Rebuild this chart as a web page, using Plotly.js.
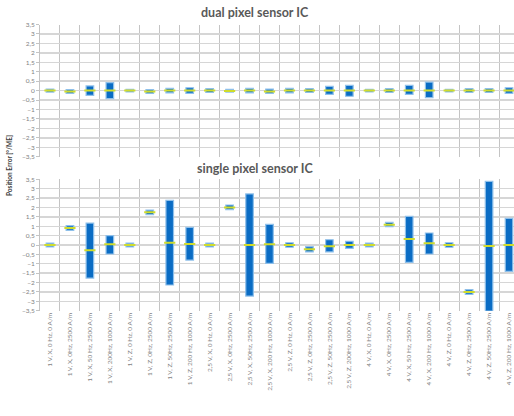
<!DOCTYPE html>
<html>
<head>
<meta charset="utf-8">
<script src="https://cdn.plot.ly/plotly-3.0.1.min.js"></script>
<style>
html,body{margin:0;padding:0;overflow:hidden;background:#fff;width:514px;height:416px;}
#chart{width:519px;height:416px;}
</style>
</head>
<body>
<div id="chart"></div>
<script>
const categories = [
  "1 V, X, 0 Hz, 0 A/m", "1 V, X, 0Hz, 2500 A/m", "1 V, X, 50 Hz, 2500 A/m", "1 V, X, 200Hz, 1000 A/m",
  "1 V, Z, 0 Hz, 0 A/m", "1 V, Z, 0Hz, 2500 A/m", "1 V, Z, 50Hz, 2500 A/m", "1 V, Z, 200 Hz, 1000 A/m",
  "2,5 V, X, 0 Hz, 0 A/m", "2,5 V, X, 0Hz, 2500 A/m", "2,5 V, X, 50Hz, 2500 A/m", "2,5 V, X, 200 Hz, 1000 A/m",
  "2,5 V, Z, 0 Hz, 0 A/m", "2,5 V, Z, 0Hz, 2500 A/m", "2,5 V, Z, 50Hz, 2500 A/m", "2,5 V, Z, 200Hz, 1000 A/m",
  "4 V, X, 0 Hz, 0 A/m", "4 V, X, 0Hz, 2500 A/m", "4 V, X, 50 Hz, 2500 A/m", "4 V, X, 200 Hz, 1000 A/m",
  "4 V, Z, 0 Hz, 0 A/m", "4 V, Z, 0Hz, 2500 A/m", "4 V, Z, 50Hz, 2500 A/m", "4 V, Z, 200 Hz, 1000 A/m"
];
const dualMin  = [-0.08,-0.15,-0.25,-0.42,-0.07,-0.15,-0.12,-0.15,-0.10,-0.08,-0.12,-0.15,-0.12,-0.10,-0.20,-0.30,-0.07,-0.10,-0.20,-0.37,-0.07,-0.10,-0.10,-0.15];
const dualMax  = [ 0.08, 0.05, 0.25, 0.42, 0.07, 0.05, 0.12, 0.15, 0.10, 0.06, 0.12, 0.08, 0.12, 0.10, 0.22, 0.28, 0.07, 0.10, 0.28, 0.45, 0.07, 0.10, 0.10, 0.15];
const dualMean = [ 0.00,-0.05, 0.00, 0.00, 0.00,-0.05, 0.00, 0.00, 0.00,-0.02, 0.00,-0.05, 0.00, 0.00, 0.00, 0.00, 0.00, 0.00, 0.00, 0.00, 0.00, 0.00, 0.00, 0.00];
const singleMin  = [-0.10, 0.78,-1.76,-0.48,-0.10, 1.62,-2.13,-0.80,-0.10, 1.88,-2.72,-0.98,-0.12,-0.37,-0.37,-0.18,-0.10, 0.98,-0.92,-0.48,-0.12,-2.63,-3.60,-1.40];
const singleMax  = [ 0.10, 1.03, 1.17, 0.50, 0.10, 1.86, 2.38, 0.94, 0.10, 2.13, 2.72, 1.10, 0.12,-0.09, 0.28, 0.20, 0.10, 1.21, 1.53, 0.64, 0.12,-2.38, 3.39, 1.42];
const singleMean = [ 0.00, 0.90,-0.28, 0.04, 0.00, 1.74, 0.12, 0.05, 0.00, 2.00, 0.00, 0.04, 0.00,-0.23,-0.07, 0.00, 0.00, 1.08, 0.32, 0.09, 0.00,-2.50,-0.05, 0.00];

const idx = categories.map((c, i) => i);
const barColor = '#0a6cc4';
const barLine = '#8fc0ea';
const meanColor = '#cfdc2c';

function rangeBars(mins, maxs, xa, ya) {
  return {
    type: 'bar', x: idx, base: mins, y: maxs.map((m, i) => m - mins[i]),
    width: 0.38, xaxis: xa, yaxis: ya,
    marker: {color: barColor, line: {color: barLine, width: 1.2}},
    hoverinfo: 'skip', showlegend: false
  };
}
function meanMarks(means, xa, ya) {
  return {
    type: 'scatter', mode: 'markers', x: idx, y: means, xaxis: xa, yaxis: ya,
    marker: {symbol: 'line-ew', size: 8, line: {color: meanColor, width: 2}},
    hoverinfo: 'skip', showlegend: false, cliponaxis: true
  };
}

const tickFont = {family: 'Lato, "Open Sans", sans-serif', size: 6.5, color: '#7f7f7f'};
function xAxis(showLabels, anchor) {
  return {
    type: 'linear', range: [-0.5, 23.5], domain: [0, 1], anchor: anchor,
    tickmode: 'array', tickvals: idx, ticktext: categories,
    showticklabels: showLabels, tickangle: -90, tickfont: tickFont,
    ticks: '', showgrid: false, zeroline: false, showline: false,
    minor: {tick0: 0.5, dtick: 1, showgrid: true, gridcolor: '#c4c4c4', gridwidth: 1, ticks: ''}
  };
}
function yAxis(domain, anchor) {
  return {
    range: [-3.5, 3.5], domain: domain, anchor: anchor,
    tickmode: 'linear', tick0: -3.5, dtick: 0.5, tickfont: tickFont,
    ticks: 'outside', ticklen: 3, tickcolor: '#c4c4c4',
    showgrid: true, gridcolor: '#d6d6d6', gridwidth: 1.4, zeroline: false,
    showline: true, linecolor: '#c4c4c4', linewidth: 1
  };
}

const data = [
  rangeBars(dualMin, dualMax, 'x', 'y'), meanMarks(dualMean, 'x', 'y'),
  rangeBars(singleMin, singleMax, 'x2', 'y2'), meanMarks(singleMean, 'x2', 'y2')
];

const titleFont = {family: 'Lato, "Open Sans", sans-serif', size: 12.5, color: '#595959', weight: 'bold'};
const layout = {
  width: 519, height: 416,
  margin: {l: 40, r: 0, t: 0, b: 0},
  paper_bgcolor: '#ffffff', plot_bgcolor: '#ffffff',
  separators: ', ',
  font: {family: 'Lato, "Open Sans", sans-serif'},
  xaxis: xAxis(false, 'y'),
  yaxis: yAxis([0.6233, 0.9411], 'x'),
  xaxis2: xAxis(true, 'y2'),
  yaxis2: yAxis([0.2531, 0.5690], 'x2'),
  annotations: [
    {text: '<b>dual pixel sensor IC</b>', xref: 'paper', yref: 'paper', x: 0.449, y: 0.969,
     xanchor: 'center', yanchor: 'middle', showarrow: false, font: titleFont},
    {text: '<b>single pixel sensor IC</b>', xref: 'paper', yref: 'paper', x: 0.449, y: 0.594,
     xanchor: 'center', yanchor: 'middle', showarrow: false, font: titleFont},
    {text: '<b>Position Error [°/ME]</b>', xref: 'paper', yref: 'paper', x: -0.0626, y: 0.601,
     xanchor: 'center', yanchor: 'middle', textangle: -90, showarrow: false,
     font: {family: 'Lato, "Open Sans", sans-serif', size: 6.5, color: '#404040'}}
  ]
};

Plotly.newPlot('chart', data, layout, {staticPlot: true, displayModeBar: false});
</script>
</body>
</html>
